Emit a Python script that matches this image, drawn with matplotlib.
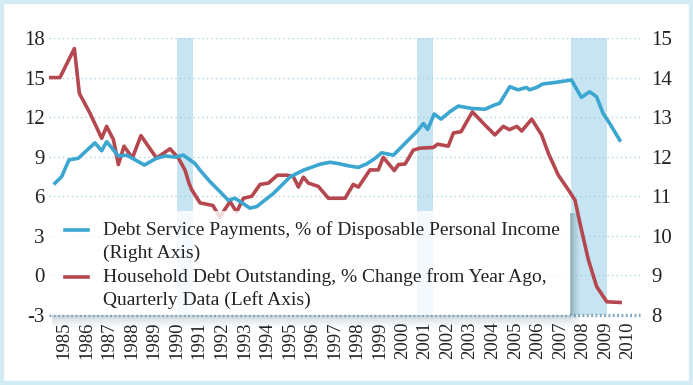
import matplotlib
matplotlib.use('Agg')
import matplotlib.pyplot as plt
from matplotlib.patches import Rectangle
from matplotlib.lines import Line2D

plt.rcParams['font.family'] = ['Liberation Serif', 'DejaVu Serif']

# ---------------- data ----------------
red_years = [1984.33, 1984.82, 1985.46, 1985.68, 1986.15, 1986.67, 1986.89, 1987.19, 1987.41,
             1987.66, 1988.03, 1988.41, 1989.10, 1989.70, 1990.07, 1990.36, 1990.54, 1990.66,
             1991.03, 1991.60, 1991.91, 1992.05, 1992.36, 1992.65, 1992.95, 1993.32, 1993.69,
             1994.06, 1994.46, 1994.87, 1995.16, 1995.39, 1995.61, 1995.83, 1996.27, 1996.72,
             1997.46, 1997.82, 1998.05, 1998.56, 1998.93, 1999.15, 1999.64, 1999.82, 2000.12,
             2000.48, 2000.78, 2001.37, 2001.56, 2002.03, 2002.26, 2002.60, 2003.10, 2003.66,
             2004.10, 2004.47, 2004.74, 2005.07, 2005.29, 2005.73, 2006.17, 2006.47, 2006.91,
             2007.35, 2007.65, 2007.87, 2008.24, 2008.61, 2009.06, 2009.65]
red_vals = [15.0, 15.0, 17.2, 13.8, 12.3, 10.4, 11.3, 10.3, 8.4,
            9.8, 8.9, 10.6, 8.9, 9.6, 8.9, 8.0, 7.0, 6.5,
            5.5, 5.3, 4.4, 4.8, 5.6, 4.8, 5.85, 6.0, 6.9,
            7.0, 7.6, 7.6, 7.5, 6.7, 7.45, 7.0, 6.75, 5.85,
            5.85, 6.9, 6.7, 8.0, 8.0, 8.95, 7.95, 8.4, 8.45,
            9.5, 9.65, 9.7, 9.95, 9.8, 10.8, 10.9, 12.4, 11.4,
            10.65, 11.3, 11.05, 11.3, 10.95, 11.85, 10.65, 9.25, 7.6,
            6.5, 5.7, 3.95, 1.2, -0.85, -2.0, -2.05]

blue_years = [1984.60, 1984.90, 1985.22, 1985.63, 1986.37, 1986.67, 1986.89, 1987.41, 1987.78,
              1988.56, 1989.10, 1989.48, 1989.92, 1990.29, 1990.80, 1991.03, 1991.47, 1991.91,
              1992.28, 1992.58, 1992.85, 1993.24, 1993.54, 1994.28, 1995.02, 1995.61, 1996.35,
              1996.79, 1997.23, 1997.60, 1998.05, 1998.42, 1998.79, 1999.08, 1999.60, 2000.12,
              2000.63, 2000.93, 2001.12, 2001.41, 2001.71, 2002.11, 2002.48, 2003.07, 2003.66,
              2004.09, 2004.31, 2004.76, 2005.12, 2005.49, 2005.64, 2005.94, 2006.23, 2006.82,
              2007.49, 2007.93, 2008.30, 2008.60, 2008.89, 2009.19, 2009.63]
blue_vals = [11.33, 11.50, 11.92, 11.96, 12.35, 12.15, 12.38, 12.02, 12.04,
             11.79, 11.96, 12.02, 11.99, 12.04, 11.83, 11.66, 11.37, 11.12,
             10.90, 10.95, 10.85, 10.70, 10.74, 11.07, 11.49, 11.66, 11.81,
             11.86, 11.82, 11.77, 11.73, 11.82, 11.96, 12.10, 12.04, 12.34,
             12.63, 12.84, 12.69, 13.08, 12.95, 13.14, 13.28, 13.22, 13.20,
             13.31, 13.35, 13.77, 13.69, 13.75, 13.69, 13.75, 13.84, 13.88,
             13.94, 13.50, 13.64, 13.52, 13.10, 12.84, 12.42]

recessions = [(1990.00, 1990.72), (2000.65, 2001.36), (2007.47, 2009.07)]

left_ticks = [-3, 0, 3, 6, 9, 12, 15, 18]
right_ticks = [8, 9, 10, 11, 12, 13, 14, 15]
year_ticks = list(range(1985, 2011))

label_blue = ['Debt Service Payments, % of Disposable Personal Income', '(Right Axis)']
label_red = ['Household Debt Outstanding, % Change from Year Ago,', 'Quarterly Data (Left Axis)']

# ---------------- styling ----------------
BLUE = '#3ba6d0'
RED = '#b5474f'
BAND = '#c6e4f1'
GRID = '#9dcde0'
FRAME = '#d3ebf3'
TXT = '#222222'

W, H = 693, 385
fig = plt.figure(figsize=(W / 100, H / 100), dpi=100)
fig.patch.set_facecolor('white')


def fx(px):
    return px / W


def fy(py):
    return 1 - py / H


ax = fig.add_axes([fx(49), fy(315), fx(640) - fx(49), fy(38) - fy(315)])
ax.set_facecolor('none')
ax2 = ax.twinx()

ax.set_xlim(1984.335, 2010.53)
ax.set_ylim(-3, 18)
ax2.set_ylim(8, 15)

for a, b in recessions:
    ax.axvspan(a, b, color=BAND, lw=0, zorder=0)

for t in left_ticks[1:]:
    ax.axhline(t, color=GRID, lw=0.9, ls=(0, (1, 2.6)), zorder=1)
ax.axhline(-3, color='#7fa8be', lw=2.4, ls=(0, (0.55, 0.75)), zorder=1, clip_on=False)

ax.plot(red_years, red_vals, color=RED, lw=2.6, zorder=3, solid_joinstyle='round')
ax2.plot(blue_years, blue_vals, color=BLUE, lw=2.6, zorder=3, solid_joinstyle='round')

for s in list(ax.spines.values()) + list(ax2.spines.values()):
    s.set_visible(False)

ax.set_yticks(left_ticks)
ax.set_yticklabels([str(t) for t in left_ticks])
ax2.set_yticks(right_ticks)
ax2.set_yticklabels([str(t) for t in right_ticks])
ax.set_xticks(year_ticks)
ax.set_xticklabels([str(y) for y in year_ticks], rotation=90)
ax.tick_params(axis='y', length=0, pad=3, labelsize=15, labelcolor=TXT)
ax2.tick_params(axis='y', length=0, pad=8, labelsize=15, labelcolor=TXT)
ax.tick_params(axis='x', length=0, pad=5, labelsize=13.5, labelcolor=TXT)

# ---------------- legend (box + shadow) ----------------
bx0, bx1, by0, by1 = 50, 570, 211, 315
# bottom shadow (under axes so tick labels stay on top)
n = 14
for k in range(n):
    fig.add_artist(Rectangle((fx(bx0 + 2), fy(by1 + k + 1)), fx(bx1 + k) - fx(bx0 + 2), 1 / H,
                             transform=fig.transFigure, facecolor='#4a6a7c', lw=0,
                             alpha=0.3 * (1 - k / n) ** 1.5, zorder=-1))
# right shadow
n = 11
for k in range(n):
    fig.add_artist(Rectangle((fx(bx1 + k), fy(by1 + k)), 1 / W, fy(by0 + 2) - fy(by1 + k),
                             transform=fig.transFigure, facecolor='#3f6072', lw=0,
                             alpha=0.42 * (1 - k / n) ** 1.5, zorder=4))

fig.add_artist(Rectangle((fx(bx0), fy(by1)), fx(bx1) - fx(bx0), fy(by0) - fy(by1),
                         transform=fig.transFigure, facecolor='white', alpha=0.8, lw=0, zorder=5))

fig.add_artist(Line2D([fx(65), fx(88)], [fy(230), fy(230)], transform=fig.transFigure,
                      color=BLUE, lw=2.6, zorder=6))
fig.add_artist(Line2D([fx(65), fx(88)], [fy(277), fy(277)], transform=fig.transFigure,
                      color=RED, lw=2.6, zorder=6))
fs = 14
fig.text(fx(103), fy(230), label_blue[0], va='center', ha='left', fontsize=fs, color=TXT, zorder=6)
fig.text(fx(103), fy(253), label_blue[1], va='center', ha='left', fontsize=fs, color=TXT, zorder=6)
fig.text(fx(103), fy(277), label_red[0], va='center', ha='left', fontsize=fs, color=TXT, zorder=6)
fig.text(fx(103), fy(300), label_red[1], va='center', ha='left', fontsize=fs, color=TXT, zorder=6)

# outer frame
fig.add_artist(Rectangle((0, 0), 1, 1, transform=fig.transFigure, fill=False,
                         edgecolor=FRAME, lw=6, zorder=10))

fig.savefig('out.png', dpi=100, facecolor='white')
